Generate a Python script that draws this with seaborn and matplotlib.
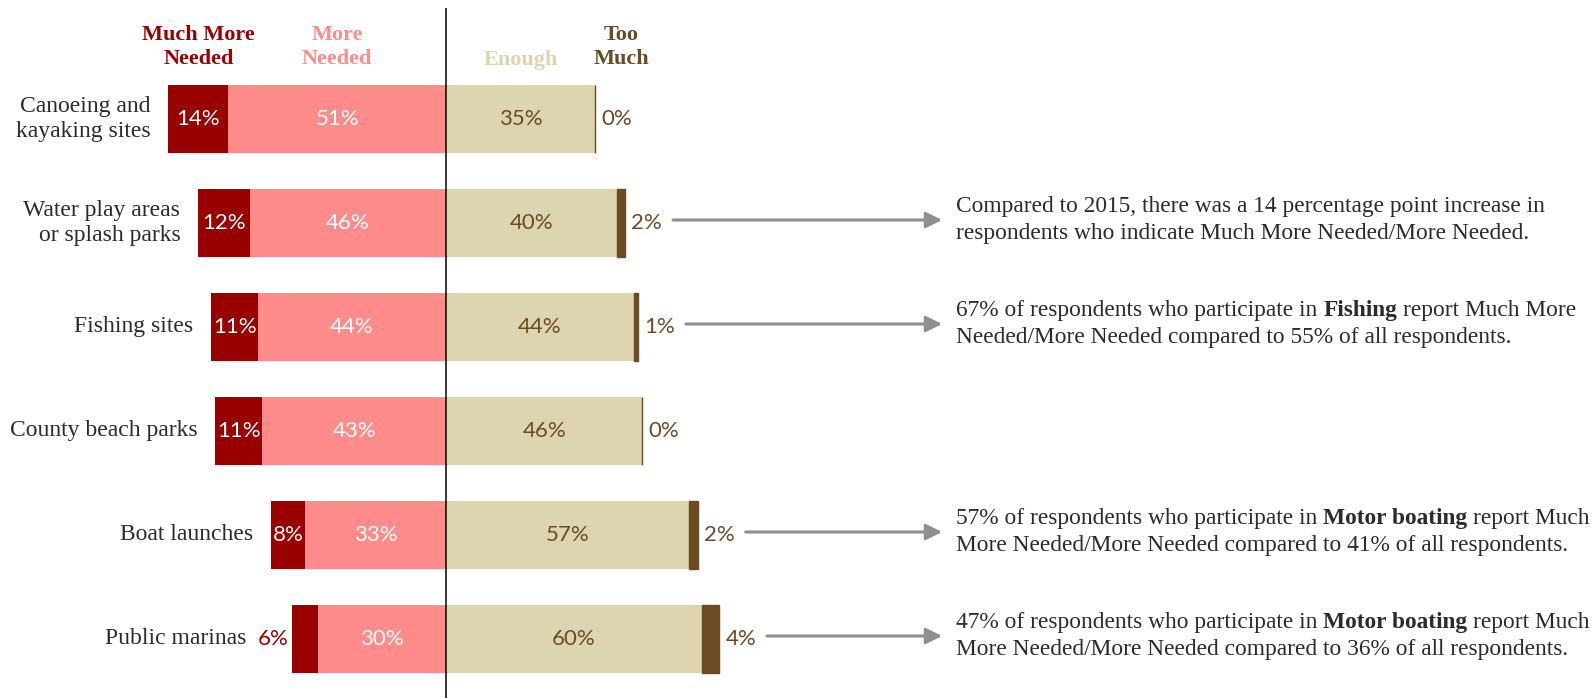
import matplotlib
matplotlib.use("Agg")
import matplotlib.pyplot as plt
import seaborn as sns
import pandas as pd
from matplotlib.patches import FancyArrowPatch

# ---- data -------------------------------------------------------------
categories = ["Canoeing and\nkayaking sites", "Water play areas\nor splash parks",
              "Fishing sites", "County beach parks", "Boat launches", "Public marinas"]
much_more = [14, 12, 11, 11, 8, 6]
more = [51, 46, 44, 43, 33, 30]
enough = [35, 40, 44, 46, 57, 60]
too_much = [0, 2, 1, 0, 2, 4]
headers = ["Much More\nNeeded", "More\nNeeded", "Enough", "Too\nMuch"]

# callout notes per row index: list of lines, each a list of (text, weight) pieces
notes = {
    1: [[("Compared to 2015, there was a 14 percentage point increase in", "normal")],
        [("respondents who indicate Much More Needed/More Needed.", "normal")]],
    2: [[("67% of respondents who participate in", "normal"), ("Fishing", "bold"),
         ("report Much More", "normal")],
        [("Needed/More Needed compared to 55% of all respondents.", "normal")]],
    4: [[("57% of respondents who participate in", "normal"), ("Motor boating", "bold"),
         ("report Much", "normal")],
        [("More Needed/More Needed compared to 41% of all respondents.", "normal")]],
    5: [[("47% of respondents who participate in", "normal"), ("Motor boating", "bold"),
         ("report Much", "normal")],
        [("More Needed/More Needed compared to 36% of all respondents.", "normal")]],
}

# ---- style ------------------------------------------------------------
C_MUCH = "#990000"
C_MORE = "#FF8B8B"
C_ENOUGH = "#DDD4B0"
C_TOO = "#6B4A24"
C_TEXT = "#2B2B2B"
C_ARROW = "#8F8F8F"

sns.set_theme(style="white")
SERIF = ["Liberation Serif", "DejaVu Serif"]
SANS = ["Lato", "DejaVu Sans"]
plt.rcParams["font.family"] = SERIF

W, H = 1593, 698
fig = plt.figure(figsize=(W / 100, H / 100), dpi=100)
ax = fig.add_axes([0, 0, 1, 1])

PX = 4.27        # pixels per percentage point
X0 = 446         # pixel position of the zero line
ROW0, ROWSTEP = 119, 104
BAR_H = 0.66

VAL_FS = 16
LAB_FS = 17
NOTE_FS = 16.8
HDR_FS = 16

n = len(categories)
df = pd.DataFrame({
    "cat": categories,
    "left_total": [-(a + b) for a, b in zip(much_more, more)],
    "left_more": [-b for b in more],
    "right_enough": enough,
})

# left side: overlay the shorter "More Needed" bar on the full negative stack
sns.barplot(data=df, x="left_total", y="cat", order=categories, orient="h", color=C_MUCH,
            saturation=1, width=BAR_H, errorbar=None, linewidth=0, ax=ax)
sns.barplot(data=df, x="left_more", y="cat", order=categories, orient="h", color=C_MORE,
            saturation=1, width=BAR_H, errorbar=None, linewidth=0, ax=ax)
sns.barplot(data=df, x="right_enough", y="cat", order=categories, orient="h", color=C_ENOUGH,
            saturation=1, width=BAR_H, errorbar=None, linewidth=0, ax=ax)
# "Too Much" segment stacked after "Enough"; the edge keeps 0% visible as a thin rule
ax.barh(range(n), too_much, left=enough, height=BAR_H, color=C_TOO,
        edgecolor=C_TOO, linewidth=1.0)

ax.set_xlim(-X0 / PX, (W - X0) / PX)
ax.set_ylim((H - ROW0) / ROWSTEP, -ROW0 / ROWSTEP)
ax.axis("off")

# zero line
ax.plot([0, 0], [(8 - ROW0) / ROWSTEP, (H - ROW0) / ROWSTEP], color="black", lw=1.1,
        solid_capstyle="butt", zorder=5)

fig.canvas.draw()
renderer = fig.canvas.get_renderer()


def pct(v):
    return f"{v}%"


def space_width(weight, size):
    a = fig.text(0, 0, "a a", fontsize=size, fontweight=weight)
    b = fig.text(0, 0, "aa", fontsize=size, fontweight=weight)
    w = a.get_window_extent(renderer).width - b.get_window_extent(renderer).width
    a.remove()
    b.remove()
    return w


for i in range(n):
    m, mo, e, t = much_more[i], more[i], enough[i], too_much[i]
    left_edge = -(m + mo)
    # much more needed
    extra = 0
    if m >= 7:
        ax.text(-(mo + m / 2), i, pct(m), ha="center", va="center", color="white",
                fontsize=VAL_FS, family=SANS)
    else:
        out = ax.annotate(pct(m), (left_edge, i), xytext=(-4, 0), textcoords="offset pixels",
                          ha="right", va="center", color=C_MUCH, fontsize=VAL_FS, family=SANS)
        extra = out.get_window_extent(renderer).width + 4 + 11 - 18
    ax.text(-mo / 2, i, pct(mo), ha="center", va="center", color="white",
            fontsize=VAL_FS, family=SANS)
    ax.text(e / 2, i, pct(e), ha="center", va="center", color=C_TOO,
            fontsize=VAL_FS, family=SANS)
    tl = ax.annotate(pct(t), (e + t, i), xytext=(6, 0), textcoords="offset pixels",
                     ha="left", va="center", color=C_TOO, fontsize=VAL_FS, family=SANS)
    # category label
    ax.annotate(categories[i], (left_edge, i), xytext=(-18 - extra, 0),
                textcoords="offset pixels", ha="right", va="center", color=C_TEXT,
                fontsize=LAB_FS, multialignment="right", linespacing=1.3)

    if i in notes:
        bb = tl.get_window_extent(renderer)
        y_px = ROW0 + ROWSTEP * i - 3
        y_data = (y_px - ROW0) / ROWSTEP
        x_start = (bb.x1 + 11 - X0) / PX
        x_end = (942 - X0) / PX
        ax.add_patch(FancyArrowPatch((x_start, y_data), (x_end, y_data),
                                     arrowstyle="-|>", mutation_scale=24, lw=2.2,
                                     color=C_ARROW, shrinkA=0, shrinkB=0))
        lines = notes[i]
        for k, parts in enumerate(lines):
            ly = y_px + (k - (len(lines) - 1) / 2) * 27
            x = 956
            for j, (txt, wt) in enumerate(parts):
                if j > 0:
                    x += space_width(wt, NOTE_FS)
                tx = fig.text(x / W, 1 - ly / H, txt, fontsize=NOTE_FS, fontweight=wt,
                              color=C_TEXT, ha="left", va="center")
                x += tx.get_window_extent(renderer).width

# column headers, centred over the first row's segments
hdr_x = [-(more[0] + much_more[0] / 2), -more[0] / 2, enough[0] / 2, 41]
hdr_c = [C_MUCH, C_MORE, C_ENOUGH, C_TOO]
for hx, txt, col in zip(hdr_x, headers, hdr_c):
    y_px = 60 if "\n" not in txt else 47
    ax.text(hx, (y_px - ROW0) / ROWSTEP, txt, ha="center", va="center", color=col,
            fontsize=HDR_FS, fontweight="bold", multialignment="center", linespacing=1.3)

fig.savefig("out.png", dpi=100)
